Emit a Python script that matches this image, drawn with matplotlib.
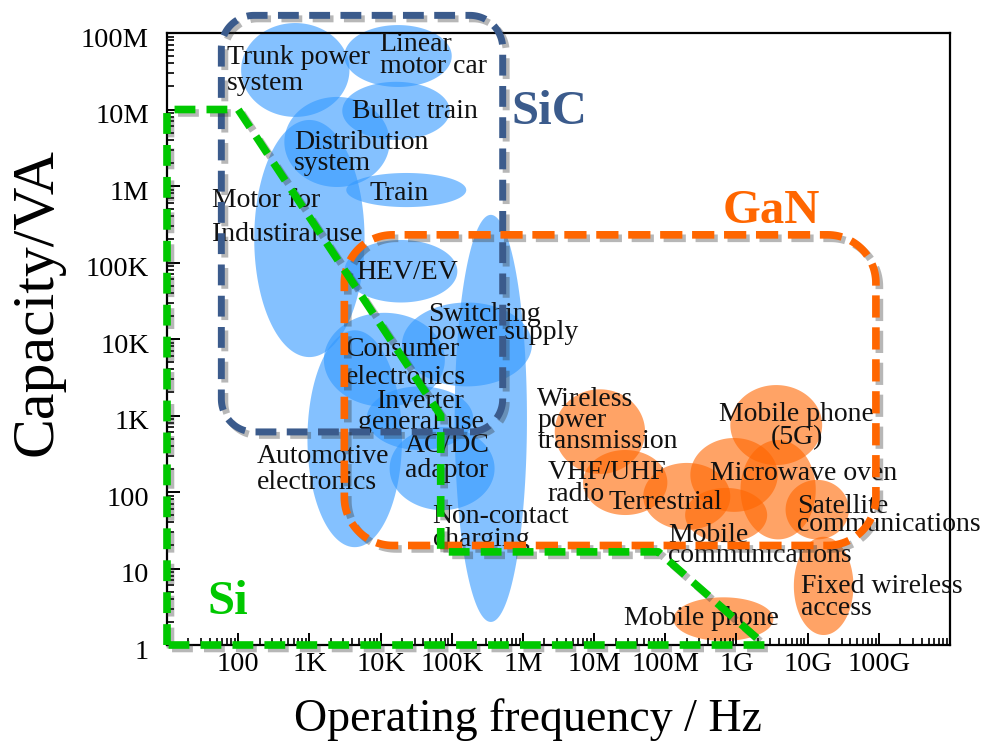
import numpy as np
import matplotlib
matplotlib.use("Agg")
import matplotlib.pyplot as plt
from matplotlib import patheffects as pe
from matplotlib.transforms import ScaledTranslation
from matplotlib.ticker import FixedLocator, FixedFormatter, LogLocator, NullFormatter

plt.rcParams['font.family'] = ['Liberation Serif', 'DejaVu Serif']
plt.rcParams['lines.scale_dashes'] = False

# ---------------- data ----------------
x_ticks = [1e2, 1e3, 1e4, 1e5, 1e6, 1e7, 1e8, 1e9, 1e10, 1e11]
x_tick_labels = ['100', '1K', '10K', '100K', '1M', '10M', '100M', '1G', '10G', '100G']
y_ticks = [1, 1e1, 1e2, 1e3, 1e4, 1e5, 1e6, 1e7, 1e8]
y_tick_labels = ['1', '10', '100', '1K', '10K', '100K', '1M', '10M', '100M']

# Si application areas (frequency range / capacity range)
blue_f_lo = [110, 3.1e3, 2.9e3, 445, 168, 3.3e3, 3.1e3, 2.0e4, 1.6e3, 6.4e3, 1.34e4, 940, 1.1e5]
blue_f_hi = [3.66e3, 1.0e5, 9.4e4, 1.34e4, 5.96e3, 1.6e5, 1.2e5, 1.34e6, 8.0e4, 2.0e5, 4.0e5, 2.0e4, 1.14e6]
blue_c_lo = [8.0e6, 1.97e7, 4.0e6, 9.7e5, 5.8e3, 5.3e5, 3.0e4, 2.4e3, 1.3e3, 354, 58, 19, 2.0]
blue_c_hi = [1.35e8, 1.27e8, 2.3e7, 1.46e7, 7.3e6, 1.48e6, 1.97e5, 3.0e4, 2.2e4, 2.4e3, 707, 1.3e4, 4.2e5]

# GaN application areas
orange_f_lo = [2.8e6, 7.0e6, 4.9e7, 8.2e8, 2.25e8, 1.14e9, 1.9e8, 4.9e9, 6.4e9, 1.3e8]
orange_f_hi = [5.2e7, 1.07e8, 8.2e8, 1.6e10, 3.8e9, 1.3e10, 2.7e9, 3.8e10, 4.4e10, 3.3e9]
orange_c_lo = [172, 50, 32, 225, 55, 24, 22, 24, 1.35, 1.13]
orange_c_hi = [2.2e3, 354, 240, 2.5e3, 508, 478, 113, 144, 26, 4.2]

# application labels
label_texts = ['Trunk power\nsystem', 'Linear\nmotor car', 'Bullet train',
               'Distribution\nsystem', 'Train', 'Motor for\nIndustiral use', 'HEV/EV',
               'Switching\npower supply', 'Consumer\nelectronics', 'Inverter\ngeneral use',
               'AC/DC\nadaptor', 'Automotive\nelectronics', 'Non-contact\ncharging',
               'Wireless\npower\ntransmission', 'Mobile phone\n(5G)', 'VHF/UHF\nradio',
               'Terrestrial', 'Microwave oven', 'Satellite\ncommunications',
               'Mobile\ncommunications', 'Fixed wireless\naccess', 'Mobile phone']
label_f = [70, 9.7e3, 4.0e3, 615, 7.0e3, 43, 4.6e3, 4.6e4, 3.3e3, 3.7e4, 2.2e4, 185, 5.4e4,
           1.6e6, 7e9, 2.2e6, 1.6e7, 4.3e8, 7.2e9, 1.1e8, 8e9, 2.6e7]
label_c = [3.2e7, 5.1e7, 9.5e6, 2.7e6, 8.1e5, 3.9e5, 7.3e4, 1.6e4, 4.8e3, 1.1e3, 280, 197, 34,
           850, 730, 130, 74, 177, 49, 20, 4.2, 2.25]
label_ha = ['left'] * 9 + ['center'] + ['left'] * 4 + ['center'] + ['left'] * 7
label_ls = [1.04, 0.83, 1, 0.83, 1, 1.46, 1, 0.67, 1.12, 0.79, 1.0, 1.04, 0.875,
            0.79, 0.92, 0.83, 1, 1, 0.63, 0.75, 0.875, 1]

# material regions
sic_f = (58, 5.2e5)
sic_c = (610, 1.7e8)
gan_f = (3.1e3, 9.1e10)
gan_c = (20, 2.3e5)
si_f = [10, 10, 100, 7e4, 7e4, 8e7, 2.5e9, 10]
si_c = [1, 1e7, 1e7, 1e3, 16.5, 16.5, 1, 1]

group_names = ['SiC', 'GaN', 'Si']
group_f = [7e5, 6.3e8, 37]
group_c = [9.3e6, 4.7e5, 3.6]

# ---------------- helpers ----------------
def ellipse_pts(f_lo, f_hi, c_lo, c_hi, n=160):
    lx0, lx1 = np.log10(f_lo), np.log10(f_hi)
    ly0, ly1 = np.log10(c_lo), np.log10(c_hi)
    t = np.linspace(0, 2 * np.pi, n)
    return (10 ** ((lx0 + lx1) / 2 + (lx1 - lx0) / 2 * np.cos(t)),
            10 ** ((ly0 + ly1) / 2 + (ly1 - ly0) / 2 * np.sin(t)))


def rounded_rect(frange, crange, rx, ry, n=30):
    x0, x1 = np.log10(frange)
    y0, y1 = np.log10(crange)
    xs, ys = [], []
    for (cx, cy, a0) in [(x1 - rx, y0 + ry, -90), (x1 - rx, y1 - ry, 0),
                         (x0 + rx, y1 - ry, 90), (x0 + rx, y0 + ry, 180)]:
        t = np.radians(np.linspace(a0, a0 + 90, n))
        xs.extend(cx + rx * np.cos(t))
        ys.extend(cy + ry * np.sin(t))
    xs.append(xs[0]); ys.append(ys[0])
    return 10 ** np.array(xs), 10 ** np.array(ys)


# ---------------- figure ----------------
fig = plt.figure(figsize=(9.83, 7.51), dpi=100)
ax = fig.add_axes([167 / 983, 1 - 645 / 751, 783 / 983, 612 / 751])
ax.set_xscale('log')
ax.set_yscale('log')
ax.set_xlim(10, 1e12)
ax.set_ylim(1, 1e8)

blue = (0.2, 0.6, 1.0)
orange = (1.0, 0.4, 0.0)
for i in range(len(blue_f_lo)):
    xs, ys = ellipse_pts(blue_f_lo[i], blue_f_hi[i], blue_c_lo[i], blue_c_hi[i])
    ax.fill(xs, ys, color=blue, alpha=0.6, lw=0, zorder=1, clip_on=False)
for i in range(len(orange_f_lo)):
    xs, ys = ellipse_pts(orange_f_lo[i], orange_f_hi[i], orange_c_lo[i], orange_c_hi[i])
    ax.fill(xs, ys, color=orange, alpha=0.6, lw=0, zorder=1, clip_on=False)

for txt, f, c, ha, ls in zip(label_texts, label_f, label_c, label_ha, label_ls):
    ax.text(f, c, txt, ha=ha, va='center', multialignment=ha, fontsize=20,
            linespacing=ls, color='#111111', zorder=3, clip_on=False)

shadow = [pe.SimpleLineShadow(offset=(2.5, -2.5), shadow_color='0.2', alpha=0.35), pe.Normal()]

xs, ys = rounded_rect(sic_f, sic_c, 0.46, 0.43)
ax.plot(xs, ys, color='#3B5B8C', lw=5, dashes=(15, 7.5), zorder=4, clip_on=False,
        path_effects=shadow)
xs, ys = rounded_rect(gan_f, gan_c, 0.68, 0.63)
ax.plot(xs, ys, color='#FF6600', lw=5.5, dashes=(16, 7), zorder=4, clip_on=False,
        path_effects=shadow)
ax.plot(si_f, si_c, color='#00C800', lw=5.5, dashes=(15, 8), zorder=5, clip_on=False,
        path_effects=shadow)

group_colors = ['#3B5B8C', '#FF6600', '#00C800']
for name, f, c, col in zip(group_names, group_f, group_c, group_colors):
    ax.text(f, c, name, ha='left', va='center', fontsize=35, fontweight='bold',
            color=col, zorder=6)

# axes styling
ax.xaxis.set_major_locator(FixedLocator(x_ticks))
ax.xaxis.set_major_formatter(FixedFormatter(x_tick_labels))
ax.yaxis.set_major_locator(FixedLocator(y_ticks))
ax.yaxis.set_major_formatter(FixedFormatter(y_tick_labels))
ax.xaxis.set_minor_locator(LogLocator(base=10, subs=np.arange(2, 10), numticks=200))
ax.yaxis.set_minor_locator(LogLocator(base=10, subs=np.arange(2, 10), numticks=200))
ax.xaxis.set_minor_formatter(NullFormatter())
ax.yaxis.set_minor_formatter(NullFormatter())
ax.tick_params(axis='both', which='major', direction='in', length=9, width=1.4,
               labelsize=20.5)
ax.tick_params(axis='both', which='minor', direction='in', length=5, width=1.2)
ax.tick_params(axis='x', which='major', pad=5)
ax.tick_params(axis='y', which='major', pad=13)
for s in ax.spines.values():
    s.set_linewidth(1.6)
    s.set_color('black')

ydown = ScaledTranslation(0, -3 / 72, fig.dpi_scale_trans)
for lab in ax.get_yticklabels():
    lab.set_transform(lab.get_transform() + ydown)

fig.text(38 / 983, 1 - 302 / 751, 'Capacity/VA', rotation=90, ha='center', va='center',
         fontsize=43)
fig.text(528 / 983, 1 - 720 / 751, 'Operating frequency / Hz', ha='center', va='center',
         fontsize=33)

fig.savefig('out.png', dpi=100)
